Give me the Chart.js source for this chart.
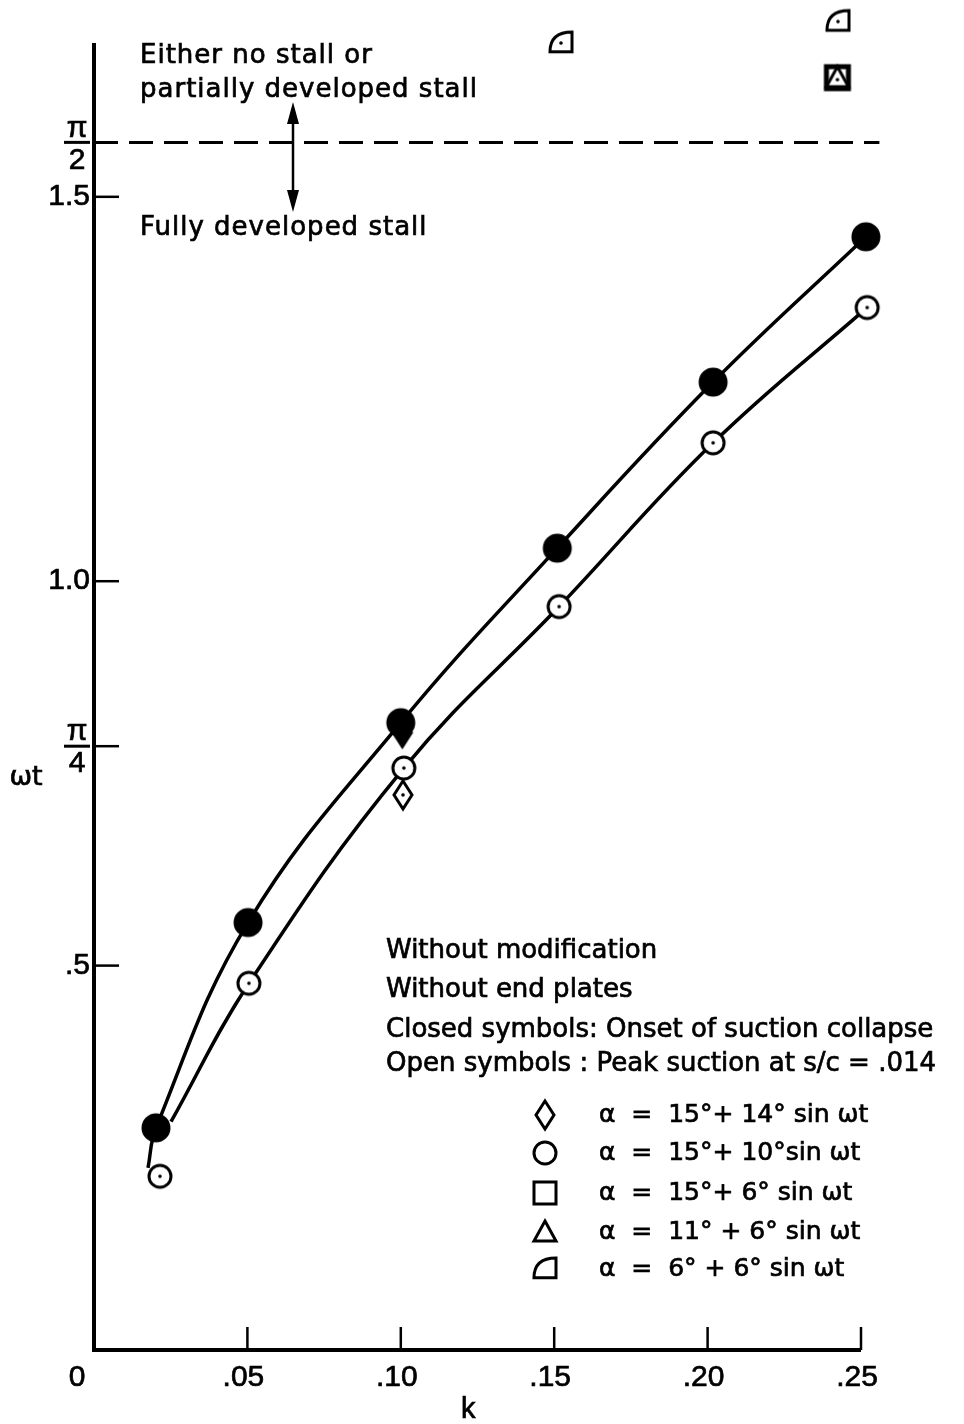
<!DOCTYPE html>
<html>
<head>
<meta charset="utf-8">
<script src="https://cdn.jsdelivr.net/npm/chart.js@4.4.1/dist/chart.umd.min.js"></script>
<style>
  html, body { margin: 0; padding: 0; background: #fff; }
  #wrap { width: 964px; height: 1424px; }
</style>
</head>
<body>
<div id="wrap"><canvas id="myChart" width="964" height="1424"></canvas></div>
<script>
// closed symbols: onset of suction collapse (alpha = 15 + 10 sin wt)
const kClosed = [0.0202, 0.0502, 0.1000, 0.1510, 0.2018, 0.2516];
const wtClosed = [0.289, 0.556, 0.816, 1.043, 1.259, 1.448];
// open symbols: peak suction at s/c = .014
const kOpen = [0.0215, 0.0505, 0.1010, 0.1516, 0.2018, 0.2520];
const wtOpen = [0.226, 0.477, 0.757, 0.967, 1.180, 1.356];

// faired curves (as drawn on the original)
const kClosedCurve = [0.0176, 0.0202, 0.0502, 0.1000, 0.1510, 0.2018, 0.2516];
const wtClosedCurve = [0.237, 0.289, 0.556, 0.816, 1.043, 1.259, 1.448];
const kOpenCurve = [0.0251, 0.0505, 0.1010, 0.1516, 0.2018, 0.2520];
const wtOpenCurve = [0.297, 0.477, 0.757, 0.967, 1.180, 1.356];

// other motions
const kDiamondClosed = [0.1005];
const wtDiamondClosed = [0.803];
const kDiamondOpen = [0.1007];
const wtDiamondOpen = [0.722];
const kSquare = [0.2423];
const wtSquare = [1.655];
const kTriangle = [0.2423];
const wtTriangle = [1.655];
const kQuarter = [0.1522, 0.2425];
const wtQuarter = [1.700, 1.728];

// stall boundary wt = pi/2
const kDash = [0, 0.256];
const wtDash = [1.5708, 1.5708];

const xTicks = [0.05, 0.10, 0.15, 0.20, 0.25];
const xTickLabels = [".05", ".10", ".15", ".20", ".25"];
const yTicks = [0.5, 1.0, 1.5];
const yTickLabels = [".5", "1.0", "1.5"];
const yFracTicks = [0.7854, 1.5708];
const yFracLabels = [["π", "4"], ["π", "2"]];
const yAxisTop = 1.70;

const notes = [
    "Without modification",
    "Without end plates",
    "Closed symbols: Onset of suction collapse",
    "Open symbols : Peak suction at s/c = .014",
];
const legendShapes = ["diamond", "circle", "square", "triangle", "quarter"];
const legendLabels = [
    "α  =  15°+ 14° sin ωt",
    "α  =  15°+ 10°sin ωt",
    "α  =  15°+ 6° sin ωt",
    "α  =  11° + 6° sin ωt",
    "α  =  6° + 6° sin ωt",
];

const TEXT_FONT = '"DejaVu Sans", sans-serif';
const NUM_FONT = '"Liberation Sans", Arial, sans-serif';

function toPts(xs, ys) {
    return xs.map((x, i) => ({ x: x, y: ys[i] }));
}

// slightly heavier lettering, like the inked original
function ink(ctx, text, x, y) {
    ctx.fillText(text, x, y);
    ctx.strokeText(text, x, y);
}

// draw one of the symbols centred at cx, cy
function drawShape(ctx, shape, cx, cy, filled, dot, lw) {
    ctx.save();
    ctx.lineWidth = lw || 3;
    ctx.strokeStyle = "#000";
    ctx.fillStyle = filled ? "#000" : "#fff";
    ctx.beginPath();
    if (shape === "circle") {
        ctx.arc(cx, cy, filled ? 13 : 11, 0, Math.PI * 2);
    } else if (shape === "diamond") {
        ctx.moveTo(cx, cy - 14);
        ctx.lineTo(cx + 9, cy);
        ctx.lineTo(cx, cy + 14);
        ctx.lineTo(cx - 9, cy);
        ctx.closePath();
    } else if (shape === "square") {
        ctx.rect(cx - 11, cy - 11, 22, 22);
    } else if (shape === "triangle") {
        ctx.moveTo(cx, cy - 11);
        ctx.lineTo(cx + 11, cy + 9);
        ctx.lineTo(cx - 11, cy + 9);
        ctx.closePath();
    } else if (shape === "quarter") {
        const s = 11;
        ctx.moveTo(cx - s, cy + s * 0.8);
        ctx.lineTo(cx + s, cy + s * 0.8);
        ctx.lineTo(cx + s, cy - s);
        ctx.quadraticCurveTo(cx - s, cy - s, cx - s, cy + s * 0.8);
        ctx.closePath();
    }
    ctx.fill();
    ctx.stroke();
    if (dot) {
        ctx.fillStyle = "#000";
        ctx.beginPath();
        ctx.arc(cx, cy + (shape === "triangle" ? 2 : 0), 1.8, 0, Math.PI * 2);
        ctx.fill();
    }
    ctx.restore();
}

function symbol(shape, filled, dot, lw) {
    const c = document.createElement("canvas");
    c.width = 36;
    c.height = 36;
    drawShape(c.getContext("2d"), shape, 18, 18, filled, dot, lw);
    return c;
}

const decorations = {
    id: "decorations",
    afterDraw(chart) {
        const ctx = chart.ctx;
        const xs = chart.scales.x;
        const ys = chart.scales.y;
        const x0 = xs.getPixelForValue(0);
        const y0 = ys.getPixelForValue(0);
        const top = ys.getPixelForValue(yAxisTop);
        ctx.save();
        ctx.strokeStyle = "#000";
        ctx.fillStyle = "#000";

        // axes
        ctx.lineWidth = 4;
        ctx.beginPath();
        ctx.moveTo(x0, top);
        ctx.lineTo(x0, y0);
        ctx.lineTo(xs.getPixelForValue(0.25), y0);
        ctx.stroke();

        // ticks
        ctx.lineWidth = 2.5;
        xTicks.forEach((v) => {
            const px = xs.getPixelForValue(v);
            ctx.beginPath();
            ctx.moveTo(px, y0);
            ctx.lineTo(px, y0 - 23);
            ctx.stroke();
        });
        yTicks.concat([yFracTicks[0]]).forEach((v) => {
            const py = ys.getPixelForValue(v);
            ctx.beginPath();
            ctx.moveTo(x0, py);
            ctx.lineTo(x0 + 25, py);
            ctx.stroke();
        });

        // fraction bars for pi labels
        ctx.lineWidth = 3;
        yFracTicks.forEach((v) => {
            const py = ys.getPixelForValue(v);
            ctx.beginPath();
            ctx.moveTo(x0 - 30, py);
            ctx.lineTo(x0 - 4, py);
            ctx.stroke();
        });

        ctx.lineWidth = 0.7;

        // tick labels
        ctx.font = "30px " + NUM_FONT;
        ctx.textBaseline = "middle";
        ctx.textAlign = "center";
        xTicks.forEach((v, i) => {
            ink(ctx, xTickLabels[i], xs.getPixelForValue(v) - 4, y0 + 28);
        });
        ink(ctx, "0", x0 - 17, y0 + 28);
        ctx.textAlign = "right";
        yTicks.forEach((v, i) => {
            ink(ctx, yTickLabels[i], x0 - 4, ys.getPixelForValue(v));
        });
        ctx.textAlign = "center";
        yFracTicks.forEach((v, i) => {
            const py = ys.getPixelForValue(v);
            ink(ctx, yFracLabels[i][0], x0 - 17, py - 14);
            ink(ctx, yFracLabels[i][1], x0 - 17, py + 18);
        });

        // axis titles
        ctx.font = "27px " + TEXT_FONT;
        ink(ctx, "ωt", 26, 778);
        ctx.font = "29px " + NUM_FONT;
        ink(ctx, "k", xs.getPixelForValue(0.122), y0 + 60);

        // stall region notes
        ctx.font = "26px " + TEXT_FONT;
        ctx.textAlign = "left";
        ctx.textBaseline = "alphabetic";
        ctx.letterSpacing = "1px";
        ink(ctx, "Either no stall or", 140, 63);
        ink(ctx, "partially developed stall", 140, 97);
        ink(ctx, "Fully developed stall", 140, 235);
        ctx.letterSpacing = "0px";

        // test conditions
        const noteBase = [958, 997, 1037, 1071];
        notes.forEach((t, i) => ink(ctx, t, 386, noteBase[i]));

        // symbol key
        const rowY = [1115, 1153, 1193, 1232, 1269];
        ctx.font = "25px " + TEXT_FONT;
        ctx.textBaseline = "middle";
        legendShapes.forEach((s, i) => {
            drawShape(ctx, s, 545, rowY[i], false, false);
            ink(ctx, legendLabels[i], 599, rowY[i]);
        });

        // double arrow
        const ax = 293;
        ctx.lineWidth = 2.5;
        ctx.beginPath();
        ctx.moveTo(ax, 118);
        ctx.lineTo(ax, 196);
        ctx.stroke();
        ctx.beginPath();
        ctx.moveTo(ax, 102);
        ctx.lineTo(ax + 6, 124);
        ctx.lineTo(ax - 6, 124);
        ctx.closePath();
        ctx.fill();
        ctx.beginPath();
        ctx.moveTo(ax, 212);
        ctx.lineTo(ax + 6, 190);
        ctx.lineTo(ax - 6, 190);
        ctx.closePath();
        ctx.fill();
        ctx.restore();
    },
};

const lineStyle = {
    type: "line",
    showLine: true,
    borderColor: "#000",
    borderWidth: 3.5,
    pointRadius: 0,
    tension: 0.4,
    order: 3,
};

const markers = (data, img, order) => ({
    type: "scatter",
    data: data,
    pointStyle: img,
    pointRadius: 14,
    clip: false,
    order: order || 1,
});

new Chart(document.getElementById("myChart"), {
    type: "scatter",
    data: {
        datasets: [
            Object.assign({ data: toPts(kClosedCurve, wtClosedCurve) }, lineStyle),
            Object.assign({ data: toPts(kOpenCurve, wtOpenCurve) }, lineStyle),
            {
                type: "line",
                data: toPts(kDash, wtDash),
                borderColor: "#000",
                borderWidth: 3,
                borderDash: [24, 11],
                pointRadius: 0,
                clip: false,
                order: 4,
            },
            markers(toPts(kOpen, wtOpen), symbol("circle", false, true)),
            markers(toPts(kClosed, wtClosed), symbol("circle", true, false)),
            markers(toPts(kDiamondOpen, wtDiamondOpen), symbol("diamond", false, true)),
            markers(toPts(kDiamondClosed, wtDiamondClosed), symbol("diamond", true, false)),
            markers(toPts(kSquare, wtSquare), symbol("square", false, false, 5), 2),
            markers(toPts(kTriangle, wtTriangle), symbol("triangle", false, true), 0),
            markers(toPts(kQuarter, wtQuarter), symbol("quarter", false, true)),
        ],
    },
    options: {
        responsive: false,
        devicePixelRatio: 1,
        animation: false,
        layout: {
            autoPadding: false,
            padding: { left: 94, right: 103, top: 0, bottom: 74 },
        },
        scales: {
            x: { type: "linear", min: 0, max: 0.25, display: false },
            y: { type: "linear", min: 0, max: 1.756, display: false },
        },
        plugins: {
            legend: { display: false },
            tooltip: { enabled: false },
        },
    },
    plugins: [decorations],
});
</script>
</body>
</html>
